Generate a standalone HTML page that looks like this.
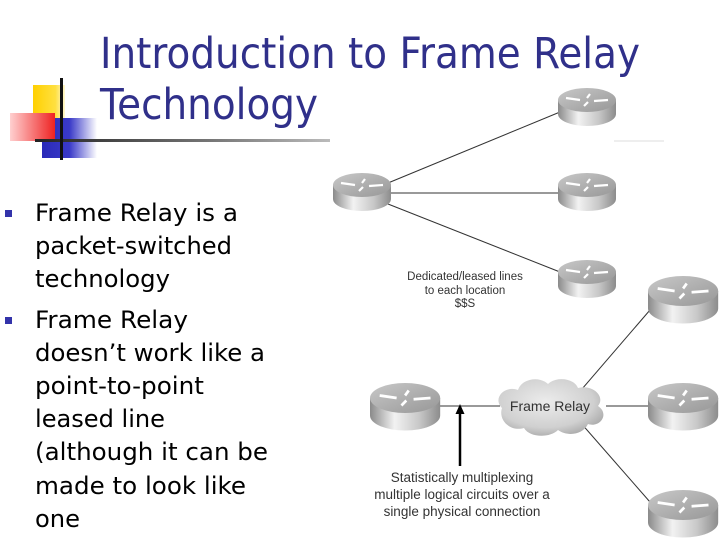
<!DOCTYPE html>
<html><head><meta charset="utf-8"><style>
html,body{margin:0;padding:0;background:#fff;}
svg{display:block;}
</style></head><body>
<svg width="720" height="540" viewBox="0 0 720 540" xmlns="http://www.w3.org/2000/svg">
<defs>
<linearGradient id="body" x1="0" x2="1" y1="0" y2="0">
<stop offset="0" stop-color="#8a8a8a"/><stop offset="0.35" stop-color="#f2f2f2"/><stop offset="0.7" stop-color="#c8c8c8"/><stop offset="1" stop-color="#8c8c8c"/>
</linearGradient>
<linearGradient id="top" x1="0" x2="1" y1="0" y2="1">
<stop offset="0" stop-color="#c8c8c8"/><stop offset="1" stop-color="#979797"/>
</linearGradient>
<linearGradient id="hl" x1="0" x2="1"><stop offset="0" stop-color="#222"/><stop offset="0.6" stop-color="#777"/><stop offset="1" stop-color="#bbb"/></linearGradient>
<linearGradient id="red" x1="0" x2="1"><stop offset="0" stop-color="#ffd0d0"/><stop offset="1" stop-color="#ee2222"/></linearGradient>
<linearGradient id="blue" x1="0" x2="1"><stop offset="0" stop-color="#2a2ab8"/><stop offset="0.5" stop-color="#3a3ac8"/><stop offset="1" stop-color="#ffffff"/></linearGradient>
<linearGradient id="yel" x1="0" x2="1"><stop offset="0" stop-color="#ffd000"/><stop offset="0.7" stop-color="#ffe040"/><stop offset="1" stop-color="#fff8d0"/></linearGradient>
<radialGradient id="cloud" cx="0.45" cy="0.4" r="0.65"><stop offset="0" stop-color="#ececec"/><stop offset="0.7" stop-color="#d0d0d0"/><stop offset="1" stop-color="#a8a8a8"/></radialGradient>
<g id="r">
<path d="M0,12 L0,26 A29,12 0 0 0 58,26 L58,12 Z" fill="url(#body)"/>
<ellipse cx="29" cy="12" rx="29" ry="12" fill="url(#top)"/>
<path d="M8,10 L22,12 M50,12 L36,13 M26,18 L30,14 M32,6 L29,10" stroke="#fff" stroke-width="2.2" fill="none"/>
</g>
</defs>

<rect x="33" y="85" width="32" height="33" fill="url(#yel)"/>
<rect x="42" y="118" width="55" height="40" fill="url(#blue)"/>
<rect x="10" y="113" width="45" height="28" fill="url(#red)"/>
<rect x="35" y="139" width="295" height="3" fill="url(#hl)"/>
<rect x="60" y="78" width="3" height="82" fill="#111"/>

<g font-family="'DejaVu Sans','Liberation Sans',sans-serif" fill="#30308a" font-size="43">
<text x="100" y="68" textLength="540" lengthAdjust="spacingAndGlyphs">Introduction to Frame Relay</text>
<text x="100" y="119" textLength="218" lengthAdjust="spacingAndGlyphs">Technology</text>
</g>

<rect x="5" y="210" width="7" height="7" fill="#3333aa"/>
<rect x="5" y="317" width="7" height="7" fill="#3333aa"/>
<g font-family="'DejaVu Sans','Liberation Sans',sans-serif" fill="#000" font-size="24">
<text x="35" y="221" textLength="203" lengthAdjust="spacingAndGlyphs">Frame Relay is a</text>
<text x="35" y="254" textLength="197" lengthAdjust="spacingAndGlyphs">packet-switched</text>
<text x="35" y="287" textLength="135" lengthAdjust="spacingAndGlyphs">technology</text>
<text x="35" y="328" textLength="153" lengthAdjust="spacingAndGlyphs">Frame Relay</text>
<text x="35" y="361" textLength="230" lengthAdjust="spacingAndGlyphs">doesn’t work like a</text>
<text x="35" y="394" textLength="169" lengthAdjust="spacingAndGlyphs">point-to-point</text>
<text x="35" y="427" textLength="130" lengthAdjust="spacingAndGlyphs">leased line</text>
<text x="35" y="460" textLength="233" lengthAdjust="spacingAndGlyphs">(although it can be</text>
<text x="35" y="494" textLength="211" lengthAdjust="spacingAndGlyphs">made to look like</text>
<text x="35" y="527" textLength="45" lengthAdjust="spacingAndGlyphs">one</text>
</g>

<g stroke="#333" stroke-width="1" fill="none">
<line x1="388" y1="183" x2="560" y2="112"/>
<line x1="391" y1="193" x2="560" y2="193"/>
<line x1="388" y1="204" x2="560" y2="272"/>
<line x1="440" y1="406" x2="500" y2="406"/>
<line x1="606" y1="406" x2="650" y2="406"/>
<line x1="582" y1="389" x2="650" y2="310"/>
<line x1="580" y1="422" x2="650" y2="502"/>
</g>
<line x1="614" y1="141" x2="664" y2="141" stroke="#eee" stroke-width="2"/>

<use href="#r" x="558" y="88"/>
<use href="#r" x="333" y="173"/>
<use href="#r" x="558" y="173"/>
<use href="#r" x="558" y="260"/>
<use href="#r" transform="translate(648,276) scale(1.21,1.25)"/>
<use href="#r" transform="translate(648,383) scale(1.21,1.25)"/>
<use href="#r" transform="translate(648,490) scale(1.21,1.25)"/>
<use href="#r" transform="translate(370,383) scale(1.21,1.25)"/>

<path d="M502,408 C492,398 505,385 518,390 C522,378 540,376 548,384 C556,376 574,378 578,388 C592,384 606,396 598,406 C610,414 600,428 588,424 C582,436 566,436 558,430 C550,438 530,438 524,428 C510,432 498,420 502,408 Z" fill="url(#cloud)"/>
<text x="550" y="411" font-family="'Liberation Sans',sans-serif" font-size="14" fill="#333" text-anchor="middle">Frame Relay</text>

<line x1="460" y1="466" x2="460" y2="412" stroke="#000" stroke-width="2.5"/>
<polygon points="460,404 455.5,414 464.5,414" fill="#000"/>

<g font-family="'Liberation Sans',sans-serif" fill="#333" text-anchor="middle">
<text x="465" y="280" font-size="11.5">Dedicated/leased lines</text>
<text x="465" y="294" font-size="11.5">to each location</text>
<text x="465" y="307" font-size="11.5">$$S</text>
<text x="462" y="482" font-size="13.5">Statistically multiplexing</text>
<text x="462" y="499" font-size="13.5">multiple logical circuits over a</text>
<text x="462" y="516" font-size="13.5">single physical connection</text>
</g>
</svg>
</body></html>
